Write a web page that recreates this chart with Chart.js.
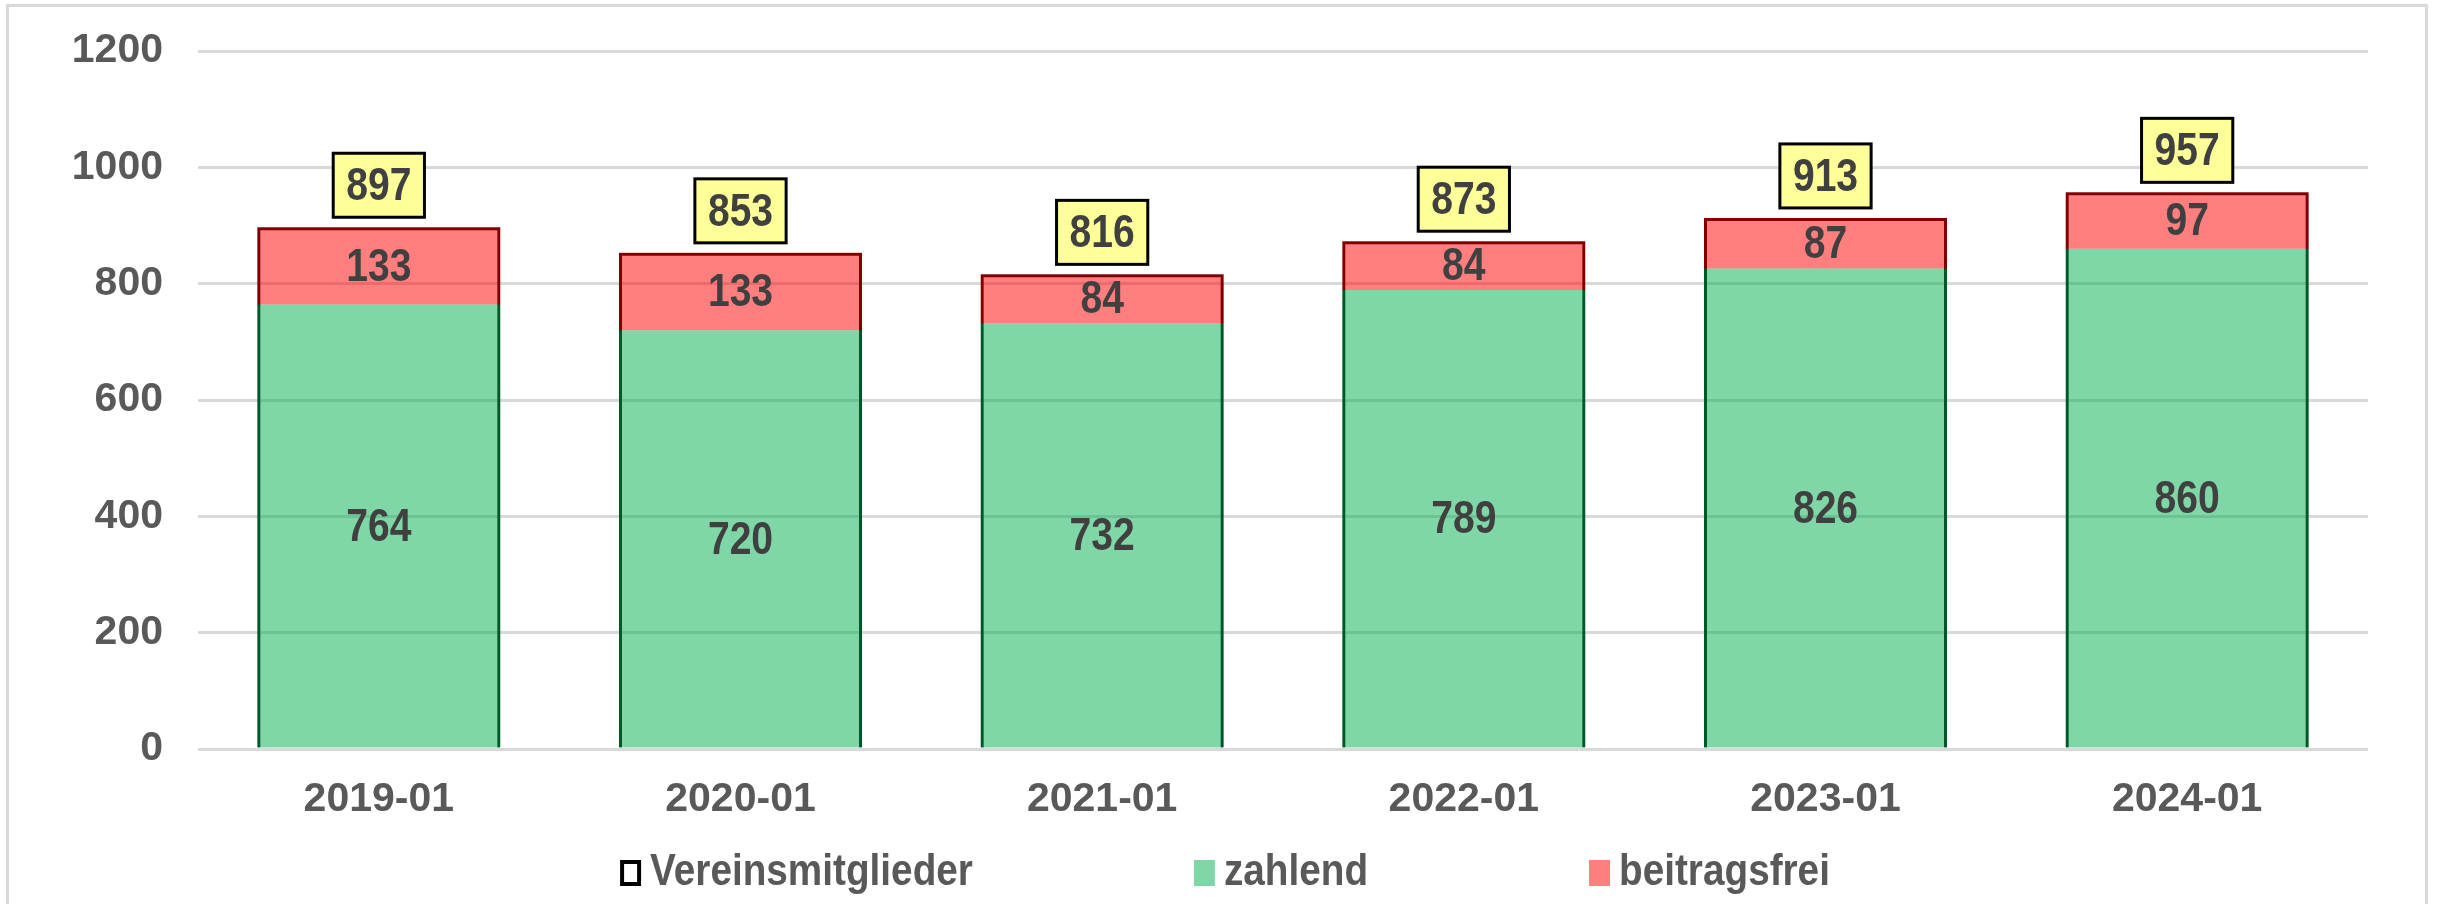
<!DOCTYPE html>
<html>
<head>
<meta charset="utf-8">
<script src="https://cdn.jsdelivr.net/npm/chart.js"></script>
<style>
  html, body { margin: 0; padding: 0; background: #fff; }
  #wrap { position: relative; width: 2438px; height: 904px; overflow: hidden; }
  #frame { position: absolute; left: 6px; top: 4px; width: 2416px; height: 1000px; border: 3px solid #d9d9d9; }
  canvas { position: absolute; left: 0; top: 0; }
</style>
</head>
<body>
<div id="wrap">
  <div id="frame"></div>
  <canvas id="chart" width="2438" height="904"></canvas>
</div>
<script>
const categories = ["2019-01", "2020-01", "2021-01", "2022-01", "2023-01", "2024-01"];
const members = [897, 853, 816, 873, 913, 957];   // Vereinsmitglieder
const paying = [764, 720, 732, 789, 826, 860];    // zahlend
const exempt = [133, 133, 84, 84, 87, 97];        // beitragsfrei
const yTicks = [0, 200, 400, 600, 800, 1000, 1200];

const FONT = "'Liberation Sans', Arial, sans-serif";
const NARROW = 0.85; // Arial Narrow gibt es hier nicht, also Text etwas stauchen

function narrowText(ctx, text, x, y, scale) {
    ctx.save();
    ctx.translate(x, y);
    ctx.scale(scale, 1);
    ctx.fillText(text, 0, 0);
    ctx.restore();
}

// Werte in die Balken, Gesamtzahl im gelben Kasten darüber
const barLabels = {
    id: "barLabels",
    afterDatasetsDraw(chart) {
        const ctx = chart.ctx;
        ctx.save();
        ctx.textAlign = "center";
        ctx.textBaseline = "middle";
        ctx.font = "bold 46px " + FONT;
        ctx.fillStyle = "#404040";
        [1, 2].forEach(di => {
            const values = chart.data.datasets[di].data;
            chart.getDatasetMeta(di).data.forEach((bar, i) => {
                narrowText(ctx, values[i], bar.x, (bar.y + bar.base) / 2 + 2, NARROW);
            });
        });

        const totals = chart.data.datasets[0].data;
        chart.getDatasetMeta(0).data.forEach((bar, i) => {
            const text = String(totals[i]);
            const w = ctx.measureText(text).width * NARROW + 26;
            const h = 64;
            const bottom = bar.y - 10;
            ctx.fillStyle = "#ffff99";
            ctx.fillRect(bar.x - w / 2, bottom - h, w, h);
            ctx.lineWidth = 3;
            ctx.strokeStyle = "#000";
            ctx.strokeRect(bar.x - w / 2, bottom - h, w, h);
            ctx.fillStyle = "#404040";
            narrowText(ctx, text, bar.x, bottom - h / 2 + 2, NARROW);
        });
        ctx.restore();
    }
};

// Legende unten, mit großen Abständen wie im Original
const wideLegend = {
    id: "wideLegend",
    afterDraw(chart) {
        const ctx = chart.ctx;
        const sets = chart.data.datasets;
        const boxW = 21, boxH = 26, gap = 9, spacing = 221, squeeze = 0.88;
        const y = 873;
        ctx.save();
        ctx.font = "bold 44px " + FONT;
        ctx.textBaseline = "middle";
        ctx.textAlign = "left";
        const widths = sets.map(s => boxW + gap + ctx.measureText(s.label).width * squeeze);
        const total = widths.reduce((a, b) => a + b, 0) + spacing * (sets.length - 1);
        let x = chart.width / 2 + 6 - total / 2;
        sets.forEach((s, i) => {
            if (s.backgroundColor === "transparent") {
                ctx.fillStyle = "#fff";
                ctx.fillRect(x, y - boxH / 2, boxW, boxH);
                ctx.lineWidth = 4;
                ctx.strokeStyle = "#000";
                ctx.strokeRect(x + 2, y - boxH / 2 + 2, boxW - 4, boxH - 4);
            } else {
                ctx.fillStyle = s.backgroundColor;
                ctx.fillRect(x, y - boxH / 2, boxW, boxH);
            }
            ctx.fillStyle = "#595959";
            narrowText(ctx, s.label, x + boxW + gap, y, squeeze);
            x += widths[i] + spacing;
        });
        ctx.restore();
    }
};

Chart.defaults.font.family = FONT;
Chart.defaults.font.weight = "bold";
Chart.defaults.color = "#595959";

new Chart(document.getElementById("chart"), {
    type: "bar",
    data: {
        labels: categories,
        datasets: [
            {
                label: "Vereinsmitglieder",
                data: members,
                stack: "total",
                order: 1,
                backgroundColor: "transparent",
                borderColor: "#000",
                borderWidth: 3,
                borderSkipped: "start",
                grouped: false
            },
            {
                label: "zahlend",
                data: paying,
                stack: "parts",
                order: 0,
                backgroundColor: "rgba(0, 176, 80, 0.5)",
                borderWidth: 0,
                grouped: false
            },
            {
                label: "beitragsfrei",
                data: exempt,
                stack: "parts",
                order: 0,
                backgroundColor: "rgba(255, 0, 0, 0.5)",
                borderWidth: 0,
                grouped: false
            }
        ]
    },
    options: {
        responsive: false,
        animation: false,
        categoryPercentage: 0.672,
        barPercentage: 1,
        layout: { padding: { top: 51, right: 70, bottom: 80, left: 0 } },
        plugins: {
            legend: { display: false },
            tooltip: { enabled: false }
        },
        scales: {
            x: {
                stacked: true,
                grid: { display: false, drawTicks: false },
                border: { display: false },
                afterFit: axis => { axis.height = 75; },
                ticks: { font: { size: 41 }, padding: 26, maxRotation: 0 }
            },
            y: {
                stacked: true,
                min: 0,
                max: 1200,
                afterBuildTicks: axis => { axis.ticks = yTicks.map(v => ({ value: v })); },
                afterFit: axis => {
                    axis.width = 198;
                    axis.paddingTop = 0;
                    axis.paddingBottom = 0;
                },
                grid: { color: "#d9d9d9", lineWidth: 3, drawTicks: false },
                border: { display: false },
                ticks: { font: { size: 41 }, padding: 35, callback: v => String(v) }
            }
        }
    },
    plugins: [barLabels, wideLegend]
});
</script>
</body>
</html>
